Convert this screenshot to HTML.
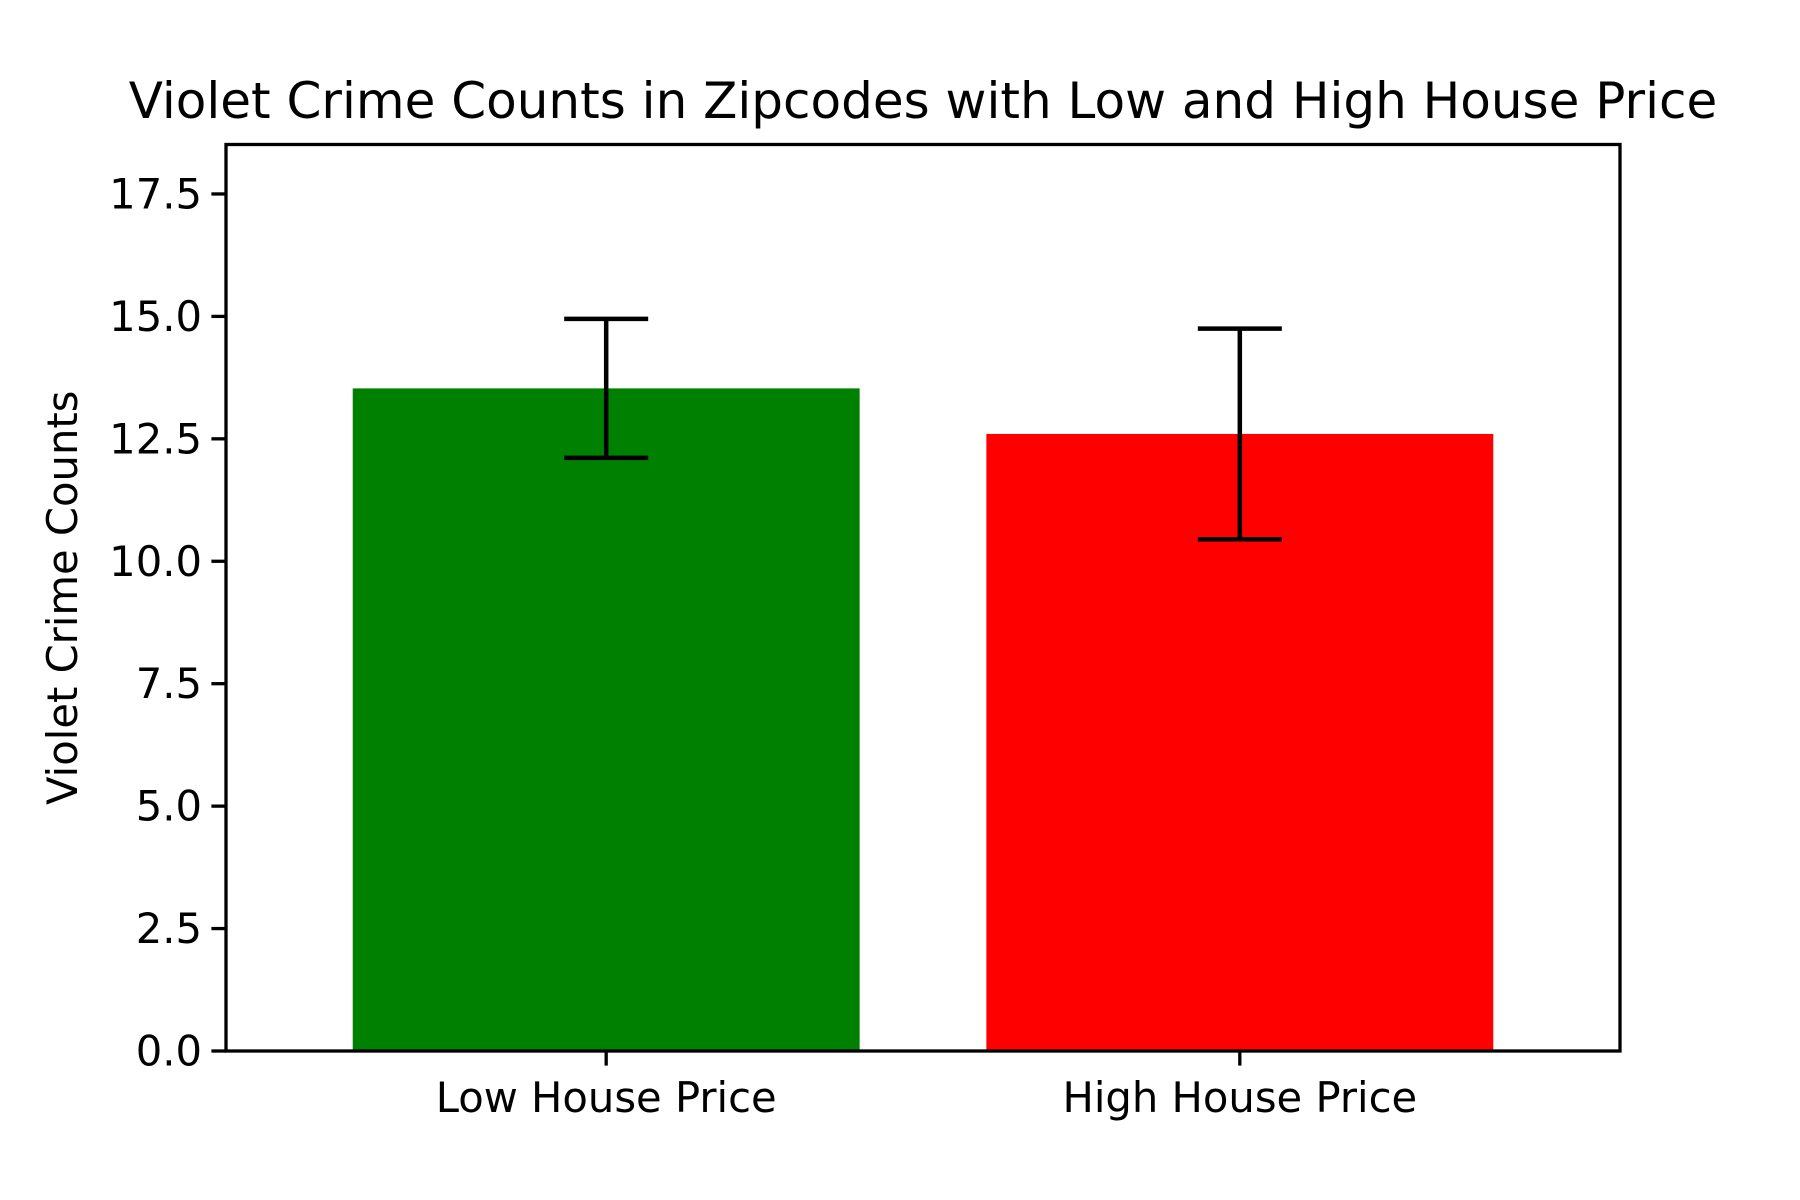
<!DOCTYPE html>
<html><head><meta charset="utf-8"><style>html,body{margin:0;padding:0;background:#fff}svg{display:block}text{font-family:"DejaVu Sans","Liberation Sans",sans-serif;fill:#000}</style></head>
<body>
<svg id="chart" width="1800" height="1200" viewBox="0 0 1800 1200" xmlns="http://www.w3.org/2000/svg">
<rect width="1800" height="1200" fill="#fff"/>
<g id="plot"></g>
</svg>
<script>
const categories = ["Low House Price", "High House Price"];
const values = [13.53, 12.6];
const errors = [1.42, 2.15];
const colors = ["#008000", "#ff0000"];
const yTicks = [0, 2.5, 5, 7.5, 10, 12.5, 15, 17.5];
const yTickLabels = ["0.0","2.5","5.0","7.5","10.0","12.5","15.0","17.5"];

const L=226,R=1620,T=144.5,B=1051;
const xMin=-0.6,xMax=1.6,yMin=0,yMax=18.51;
const xs=v=>L+(v-xMin)/(xMax-xMin)*(R-L);
const ys=v=>B-(v-yMin)/(yMax-yMin)*(B-T);
const NS="http://www.w3.org/2000/svg";
const g=document.getElementById('plot');
function mk(tag,attrs){const e=document.createElementNS(NS,tag);for(const k in attrs)e.setAttribute(k,attrs[k]);g.appendChild(e);return e;}

categories.forEach((c,i)=>{
  const b=mk('rect',{x:xs(i-0.4),y:ys(values[i]),width:xs(i+0.4)-xs(i-0.4),height:ys(0)-ys(values[i]),fill:colors[i]});
  
  
});
categories.forEach((c,i)=>{
  const cx=xs(i),hi=ys(values[i]+errors[i]),lo=ys(values[i]-errors[i]);
  const e=mk('path',{d:`M${cx},${hi}V${lo}M${cx-42},${hi}H${cx+42}M${cx-42},${lo}H${cx+42}`,stroke:'#000','stroke-width':4.5,fill:'none'});
  
  
});
const frame=mk('rect',{x:L,y:T,width:R-L,height:B-T,fill:'none',stroke:'#000','stroke-width':3.3});



yTicks.forEach((v,i)=>{
  const y=ys(v);
  const t=mk('line',{x1:L-14.6,x2:L,y1:y,y2:y,stroke:'#000','stroke-width':3.3});
  
  
  const l=mk('text',{x:L-24,y:y+14.5,'text-anchor':'end','font-size':41.7});
  l.textContent=yTickLabels[i];
  
  
});
categories.forEach((c,i)=>{
  const x=xs(i);
  const t=mk('line',{x1:x,x2:x,y1:B,y2:B+14.6,stroke:'#000','stroke-width':3.3});
  
  
  const l=mk('text',{x:x,y:1112,'text-anchor':'middle','font-size':41.7});
  l.textContent=c;
  
  
});
const title=mk('text',{x:(L+R)/2,y:118,'text-anchor':'middle','font-size':50});
title.textContent='Violet Crime Counts in Zipcodes with Low and High House Price';


const yl=mk('text',{x:0,y:0,'text-anchor':'middle','font-size':41.7,transform:`translate(77,${(T+B)/2}) rotate(-90)`});
yl.textContent='Violet Crime Counts';


</script>
</body></html>
